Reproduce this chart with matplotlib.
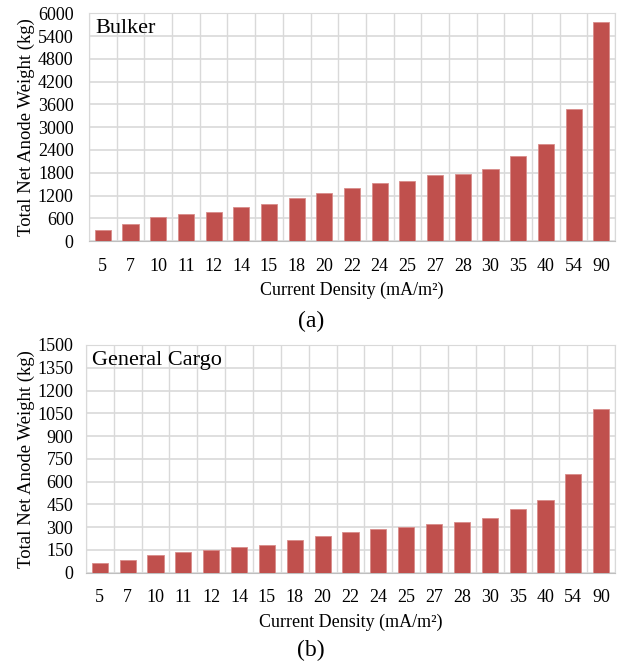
import numpy as np
import matplotlib.pyplot as plt

plt.rcParams['font.family'] = ['Liberation Serif', 'DejaVu Serif']

densities = ["5", "7", "10", "11", "12", "14", "15", "18", "20", "22",
             "24", "25", "27", "28", "30", "35", "40", "54", "90"]
bulker = [300, 440, 633, 704, 757, 889, 968, 1145, 1267, 1409,
          1523, 1594, 1734, 1779, 1911, 2243, 2552, 3468, 5771]
general_cargo = [61, 87, 120, 134, 147, 168, 180, 219, 245, 267,
                 289, 302, 324, 337, 359, 423, 482, 650, 1080]

bar_color = "#C0504D"
grid_color = "#D9D9D9"


def draw(ax, values, ymax, ystep, title, ypad):
    x = np.arange(len(densities))
    ax.bar(x, values, width=0.58, color=bar_color, edgecolor="#D98C8A",
           linewidth=0.6, zorder=3)
    ax.set_xlim(-0.5, len(densities) - 0.5)
    ax.set_ylim(0, ymax)
    ax.set_yticks(np.arange(0, ymax + 1, ystep))
    ax.set_xticks(x)
    ax.set_xticklabels(densities)
    ax.set_xticks(np.arange(-0.5, len(densities), 1), minor=True)
    ax.grid(axis="y", which="major", color=grid_color, linewidth=1.2, zorder=0)
    ax.grid(axis="x", which="minor", color=grid_color, linewidth=1.0, zorder=0)
    ax.tick_params(axis="both", which="both", length=0, labelsize=13)
    ax.tick_params(axis="x", pad=12)
    ax.tick_params(axis="y", pad=ypad)
    for s in ax.spines.values():
        s.set_color(grid_color)
    ax.spines["bottom"].set_color("#BFBFBF")
    ax.set_xlabel("Current Density (mA/m²)", fontsize=13, labelpad=5)
    ax.set_ylabel("Total Net Anode Weight (kg)", fontsize=13.5, labelpad=2)
    ax.text(0.012, 0.975, title, transform=ax.transAxes, fontsize=16,
            va="top", ha="left", zorder=4)


fig = plt.figure(figsize=(6.22, 6.66), dpi=100)
ax1 = fig.add_axes([0.143, 0.638, 0.846, 0.342])
ax2 = fig.add_axes([0.138, 0.140, 0.851, 0.342])

draw(ax1, bulker, 6000, 600, "Bulker", 11)
draw(ax2, general_cargo, 1500, 150, "General Cargo", 9)

fig.text(0.5, 0.518, "(a)", ha="center", va="center", fontsize=17)
fig.text(0.5, 0.023, "(b)", ha="center", va="center", fontsize=17)

fig.savefig("out.png", dpi=100)
